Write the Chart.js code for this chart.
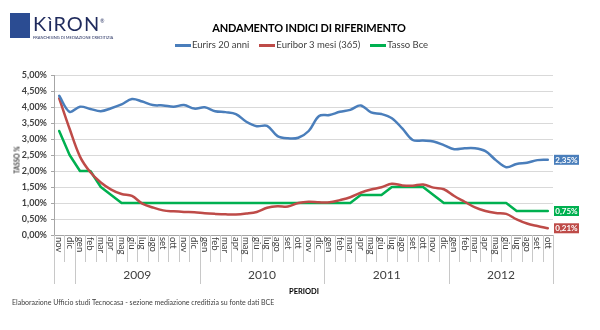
<!DOCTYPE html>
<html>
<head>
<meta charset="utf-8">
<script src="https://cdn.jsdelivr.net/npm/chart.js@4.4.1/dist/chart.umd.min.js"></script>
<style>
  body { margin: 0; background: #fff; font-family: Lato, "Liberation Sans", sans-serif; }
  #wrap { position: relative; width: 600px; height: 330px; overflow: hidden; }
  #myChart { position: absolute; left: 0; top: 0; }
  .abs { position: absolute; white-space: nowrap; color: #404040; }
  #logoBox { left: 10px; top: 13px; width: 20px; height: 25px; background: #2b4c92; }
  #logoTxt { left: 33px; top: 11px; font-size: 20px; color: #1f2a5c; letter-spacing: 1px; }
  #logoSub { left: 33px; top: 35px; font-size: 4px; color: #1f2a5c; }
  #title { left: 309px; top: 21px; transform: translateX(-50%); font-size: 11px; font-weight: bold; color: #000; letter-spacing: -0.2px; }
  #legend { left: 175px; top: 39px; font-size: 9.5px; }
  #legend span.sw { display: inline-block; width: 16px; height: 3px; vertical-align: middle; margin-right: 1px; }
  #legend span.it { margin-right: 10px; }
  #ytitle { left: 17px; top: 160px; transform: translate(-50%, -50%) rotate(-90deg); font-size: 6.5px; font-weight: bold; }
  #periodi { left: 304px; top: 287px; transform: translateX(-50%); font-size: 7.5px; font-weight: bold; color: #000; }
  #footer { left: 12px; top: 298px; font-size: 7px; }
</style>
</head>
<body>
<div id="wrap">
  <canvas id="myChart" width="600" height="330"></canvas>
  <div class="abs" id="logoBox"></div>
  <div class="abs" id="logoTxt">KìRON<sup style="font-size:5px">®</sup></div>
  <div class="abs" id="logoSub">FRANCHISING DI MEDIAZIONE CREDITIZIA</div>
  <div class="abs" id="title">ANDAMENTO INDICI DI RIFERIMENTO</div>
  <div class="abs" id="legend"></div>
  <div class="abs" id="ytitle">TASSO %</div>
  <div class="abs" id="periodi">PERIODI</div>
  <div class="abs" id="footer">Elaborazione Ufficio studi Tecnocasa - sezione mediazione creditizia su fonte dati BCE</div>
</div>
<script>
const months = [
  "nov", "dic",
  "gen", "feb", "mar", "apr", "mag", "giu", "lug", "ago", "set", "ott", "nov", "dic",
  "gen", "feb", "mar", "apr", "mag", "giu", "lug", "ago", "set", "ott", "nov", "dic",
  "gen", "feb", "mar", "apr", "mag", "giu", "lug", "ago", "set", "ott", "nov", "dic",
  "gen", "feb", "mar", "apr", "mag", "giu", "lug", "ago", "set", "ott",
];
const years = ["", "", "2009", "2010", "2011", "2012"];
const yearOf = [
  2008, 2008,
  2009, 2009, 2009, 2009, 2009, 2009, 2009, 2009, 2009, 2009, 2009, 2009,
  2010, 2010, 2010, 2010, 2010, 2010, 2010, 2010, 2010, 2010, 2010, 2010,
  2011, 2011, 2011, 2011, 2011, 2011, 2011, 2011, 2011, 2011, 2011, 2011,
  2012, 2012, 2012, 2012, 2012, 2012, 2012, 2012, 2012, 2012,
];

const eurirs = [
  4.35, 3.85, 4.01, 3.94, 3.87, 3.96, 4.08, 4.25, 4.17, 4.06, 4.05, 4.01,
  4.06, 3.95, 3.99, 3.87, 3.84, 3.78, 3.54, 3.40, 3.41, 3.09, 3.02, 3.04,
  3.25, 3.72, 3.75, 3.85, 3.91, 4.05, 3.83, 3.78, 3.65, 3.33, 2.97, 2.95,
  2.92, 2.81, 2.68, 2.71, 2.71, 2.62, 2.34, 2.12, 2.22, 2.26, 2.34, 2.35,
];
const euribor = [
  4.27, 3.32, 2.45, 1.96, 1.64, 1.42, 1.28, 1.22, 0.98, 0.86, 0.77, 0.74,
  0.72, 0.71, 0.68, 0.66, 0.645, 0.64, 0.67, 0.72, 0.85, 0.90, 0.89, 1.00,
  1.04, 1.02, 1.02, 1.09, 1.18, 1.32, 1.42, 1.49, 1.60, 1.55, 1.54, 1.58,
  1.48, 1.43, 1.22, 1.04, 0.86, 0.75, 0.69, 0.66, 0.49, 0.36, 0.28, 0.21,
];
const bce = [
  3.25, 2.50, 2.00, 2.00, 1.50, 1.25, 1.00, 1.00, 1.00, 1.00, 1.00, 1.00,
  1.00, 1.00, 1.00, 1.00, 1.00, 1.00, 1.00, 1.00, 1.00, 1.00, 1.00, 1.00,
  1.00, 1.00, 1.00, 1.00, 1.00, 1.25, 1.25, 1.25, 1.50, 1.50, 1.50, 1.50,
  1.25, 1.00, 1.00, 1.00, 1.00, 1.00, 1.00, 1.00, 0.75, 0.75, 0.75, 0.75,
];
const seriesNames = ["Eurirs 20 anni", "Euribor 3 mesi  (365)", "Tasso Bce"];
const seriesColors = ["#4A7EBB", "#BE4B48", "#00B050"];

const fmt = (v) => v.toFixed(2).replace(".", ",") + "%";

// legend in html
const legend = document.getElementById("legend");
seriesNames.forEach((name, i) => {
  legend.innerHTML +=
    '<span class="sw" style="background:' + seriesColors[i] + '"></span><span class="it">' + name + "</span>";
});

// month labels, separators and years under the x axis
const periodAxis = {
  id: "periodAxis",
  afterDraw(chart) {
    const c = chart.ctx;
    const xs = chart.scales.x;
    const top = chart.chartArea.bottom;
    const half = (xs.getPixelForValue(1) - xs.getPixelForValue(0)) / 2;
    c.save();
    c.strokeStyle = "#c8c8c8";
    c.lineWidth = 1;
    for (let i = 0; i <= months.length; i++) {
      const x = Math.round(i < months.length ? xs.getPixelForValue(i) - half : xs.getPixelForValue(i - 1) + half) + 0.5;
      const long = i === 0 || i === months.length || yearOf[i] !== yearOf[i - 1];
      c.beginPath();
      c.moveTo(x, top);
      c.lineTo(x, top + (long ? 49 : 27));
      c.stroke();
    }
    c.fillStyle = "#404040";
    c.font = "9.5px Lato";
    c.textAlign = "left";
    c.textBaseline = "middle";
    months.forEach((m, i) => {
      c.save();
      c.translate(xs.getPixelForValue(i), top + 2);
      c.rotate(Math.PI / 2);
      c.fillText(m, 0, 0);
      c.restore();
    });
    c.font = "12px Lato";
    c.textAlign = "center";
    years.forEach((y) => {
      if (!y) return;
      const idx = yearOf.map((v, i) => (String(v) === y ? i : -1)).filter((i) => i >= 0);
      const x = (xs.getPixelForValue(idx[0]) + xs.getPixelForValue(idx[idx.length - 1])) / 2;
      c.fillText(y, x, top + 40);
    });
    c.restore();
  },
};

// value boxes at the end of each line
const endLabels = {
  id: "endLabels",
  afterDatasetsDraw(chart) {
    const c = chart.ctx;
    const ys = chart.scales.y;
    c.save();
    c.font = "bold 8px Lato";
    c.textAlign = "center";
    c.textBaseline = "middle";
    chart.data.datasets.forEach((ds) => {
      const v = ds.data[ds.data.length - 1];
      const y = ys.getPixelForValue(v);
      const x = chart.chartArea.right + 1;
      c.fillStyle = ds.borderColor;
      c.fillRect(x, y - 5, 25, 10);
      c.fillStyle = "#fff";
      c.fillText(fmt(v), x + 12.5, y + 0.5);
    });
    c.restore();
  },
};

const ctx = document.getElementById("myChart");
new Chart(ctx, {
  type: "line",
  data: {
    labels: months,
    datasets: [
      { label: seriesNames[0], data: eurirs, borderColor: seriesColors[0], tension: 0.35 },
      { label: seriesNames[1], data: euribor, borderColor: seriesColors[1], tension: 0.35 },
      { label: seriesNames[2], data: bce, borderColor: seriesColors[2], tension: 0 },
    ],
  },
  options: {
    responsive: false,
    animation: false,
    layout: { padding: { top: 75, right: 47, left: 0, bottom: 0 } },
    elements: {
      point: { radius: 0 },
      line: { borderWidth: 2.5, borderCapStyle: "round", borderJoinStyle: "round" },
    },
    plugins: { legend: { display: false }, title: { display: false }, tooltip: { enabled: false } },
    scales: {
      x: {
        offset: true,
        grid: { display: false },
        ticks: { display: false },
        border: { display: true, color: "#a6a6a6" },
        afterFit: (s) => { s.height = 95; },
      },
      y: {
        min: 0,
        max: 5,
        ticks: {
          stepSize: 0.5,
          padding: 4,
          color: "#404040",
          font: { family: "Lato", size: 9, weight: "bold" },
          callback: (v) => fmt(v),
        },
        grid: { color: "#d9d9d9", tickColor: "#a6a6a6", tickLength: 3 },
        border: { display: true, color: "#a6a6a6" },
        afterFit: (s) => { s.width = 54; },
      },
    },
  },
  plugins: [periodAxis, endLabels],
});
</script>
</body>
</html>
